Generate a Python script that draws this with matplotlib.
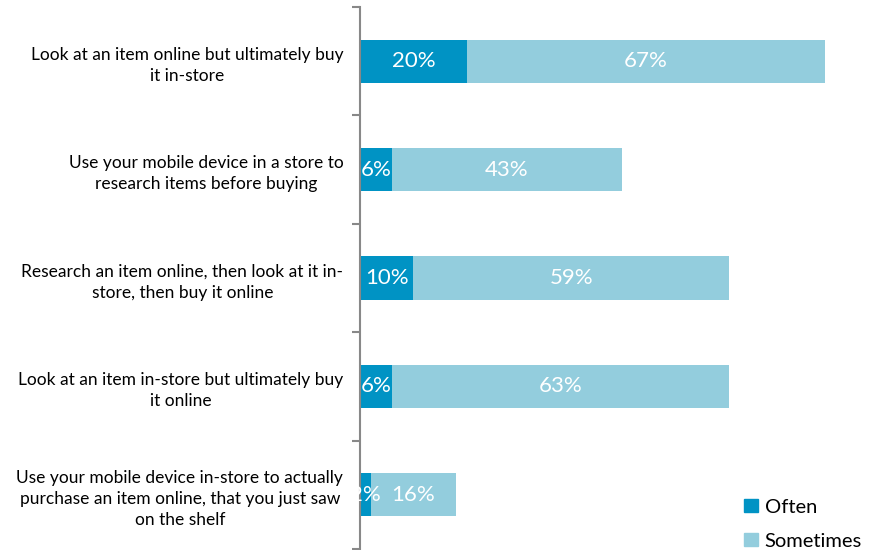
import numpy as np
import matplotlib
matplotlib.use("Agg")
import matplotlib.pyplot as plt
from matplotlib.patches import Patch

plt.rcParams["font.family"] = ["Lato", "DejaVu Sans"]

categories = [
    "Look at an item online but ultimately buy\nit in-store",
    "Use your mobile device in a store to\nresearch items before buying",
    "Research an item online, then look at it in-\nstore, then buy it online",
    "Look at an item in-store but ultimately buy\nit online",
    "Use your mobile device in-store to actually\npurchase an item online, that you just saw\non the shelf",
]
often = [20, 6, 10, 6, 2]
sometimes = [67, 43, 59, 63, 16]

C_OFTEN = "#0093c4"
C_SOME = "#93cddd"

fig = plt.figure(figsize=(8.8, 5.5), dpi=100)
ax = fig.add_axes([360 / 880, 1 / 550, 500 / 880, 542 / 550])

y = np.arange(len(categories))
h = 0.4
ax.barh(y, often, h, color=C_OFTEN)
ax.barh(y, sometimes, h, left=often, color=C_SOME)

for i in range(len(categories)):
    ax.text(often[i] / 2, y[i], f"{often[i]}%", ha="center", va="center",
            color="white", fontsize=16)
    ax.text(often[i] + sometimes[i] / 2, y[i], f"{sometimes[i]}%", ha="center",
            va="center", color="white", fontsize=16)

ax.set_xlim(0, 93.5)
ax.set_ylim(len(categories) - 0.5, -0.5)
ax.set_yticks(y)
ax.set_yticklabels(categories, fontsize=12.5)
for t in ax.get_yticklabels():
    t.set_multialignment("center")
    t.set_linespacing(1.4)
ax.tick_params(axis="y", which="major", length=0, pad=12)
ax.set_yticks(np.arange(-0.5, len(categories)), minor=True)
ax.tick_params(axis="y", which="minor", length=6, width=1.5, color="#888888")
ax.set_xticks([])
for s in ["top", "right", "bottom"]:
    ax.spines[s].set_visible(False)
ax.spines["left"].set_color("#888888")
ax.spines["left"].set_linewidth(1.5)

handles = [Patch(color=C_OFTEN, label="Often"), Patch(color=C_SOME, label="Sometimes")]
ax.legend(handles=handles, loc="lower right", bbox_to_anchor=(1.04, -0.035),
          frameon=False, fontsize=14.5, handlelength=0.65, handleheight=0.65,
          handletextpad=0.35, labelspacing=0.85)

fig.savefig("out.png", dpi=100)
